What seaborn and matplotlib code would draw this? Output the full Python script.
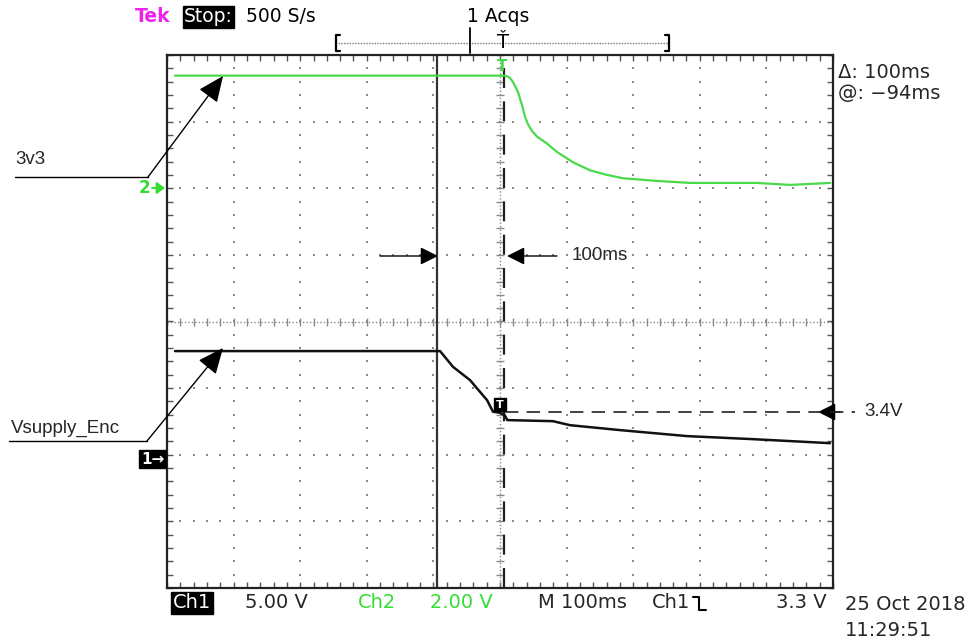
import numpy as np
import pandas as pd
import matplotlib
matplotlib.use("Agg")
import matplotlib.pyplot as plt
import seaborn as sns
from matplotlib.lines import Line2D
from matplotlib.patches import FancyArrowPatch, ArrowStyle

# ---------------- data (time in ms relative to screen centre, volts) -------------
ch2_t = [-488, -300, -100, 0, 7.5, 12, 15, 19.5, 27, 33, 37.5, 42, 48, 55.6, 70.6, 85.6,
         109.6, 135, 160.7, 184.7, 235.7, 285.3, 385.9, 435.7, 496]
ch2_v = [3.38, 3.38, 3.38, 3.38, 3.38, 3.35, 3.31, 3.19, 2.89, 2.50, 2.15, 1.92, 1.72,
         1.55, 1.34, 1.09, 0.78, 0.54, 0.40, 0.30, 0.22, 0.16, 0.16, 0.10, 0.16]

ch1_t = [-488, -300, -90, -70.6, -45, -19.5, -10.5, 0, 7, 11, 79.6, 105, 180, 280.8,
         379.9, 495.5]
ch1_v = [8.18, 8.18, 8.18, 7.0, 6.0, 4.5, 3.63, 3.55, 3.37, 3.0, 2.92, 2.62, 2.25, 1.8,
         1.57, 1.27]

ch1_scale, ch1_ground = 5.0, -2.08   # V/div, ground marker (div)
ch2_scale, ch2_ground = 2.0, 2.0
cursor1_ms, cursor2_ms = -94, 6

df1 = pd.DataFrame({"t": ch1_t, "div": np.array(ch1_v) / ch1_scale + ch1_ground})
df2 = pd.DataFrame({"t": ch2_t, "div": np.array(ch2_v) / ch2_scale + ch2_ground})

# ---------------- figure --------------------------------------------------------
sns.set_theme(style="white")
plt.rcParams["font.family"] = ["DejaVu Sans"]
W, H = 976, 641
fig = plt.figure(figsize=(W / 100, H / 100), dpi=100)
L, R, T, B = 167, 833, 55, 588
ax = fig.add_axes([L / W, 1 - B / H, (R - L) / W, (B - T) / H])
ax.set_xlim(-500, 500)
ax.set_ylim(-4, 4)


def fx(x):
    return x / W


def fy(y):
    return 1 - y / H


GREEN = "#4ad94a"
TXTGREEN = "#33dd33"
MAG = "#ee22ee"
GRID = "#8a8a8a"

# grid dots
xs = np.arange(-500, 501, 20)
ys = np.arange(-4, 4.01, 0.2)
for gx in range(-400, 401, 100):
    if gx == 0:
        continue
    ax.scatter(np.full(len(ys), gx), ys, s=1.6, color=GRID, marker="s", linewidths=0, zorder=1)
for gy in range(-3, 4):
    if gy == 0:
        continue
    ax.scatter(xs, np.full(len(xs), gy), s=1.6, color=GRID, marker="s", linewidths=0, zorder=1)

# centre crosshair with ticks
ax.axhline(0, color=GRID, lw=1, ls=(0, (1, 1.5)), zorder=1)
ax.axvline(0, color=GRID, lw=1, ls=(0, (1, 1.5)), zorder=1)
ax.plot(xs, np.zeros(len(xs)), ls="none", marker="|", ms=6, mew=1, color=GRID, zorder=1)
ax.plot(np.zeros(len(ys)), ys, ls="none", marker="_", ms=6, mew=1, color=GRID, zorder=1)

# border ticks
ax.set_xticks([])
ax.set_yticks([])
ax.set_xticks(xs, minor=True)
ax.set_yticks(ys, minor=True)
ax.tick_params(which="minor", direction="in", length=4, width=1, color="#555555",
               top=True, bottom=True, left=True, right=True,
               labelbottom=False, labelleft=False)
for s in ax.spines.values():
    s.set_color("#222222")
    s.set_linewidth(1.6)

# cursors
ax.axvline(cursor1_ms, color="#333333", lw=1.6, zorder=2)
ax.axvline(cursor2_ms, color="#222222", lw=1.6, ls=(0, (9, 6)), zorder=2)

# traces
sns.lineplot(data=df2, x="t", y="div", ax=ax, color=GREEN, lw=1.6, estimator=None, zorder=3)
sns.lineplot(data=df1, x="t", y="div", ax=ax, color="#111111", lw=1.8, estimator=None, zorder=3)
ax.set_xlabel("")
ax.set_ylabel("")

# trigger position marker (green T at top)
ax.text(cursor2_ms - 3, 3.82, "T", color=GREEN, fontsize=11, fontweight="bold",
        ha="center", va="center", zorder=4)
# trigger level box on ch1
ax.text(0, -1.25, "T", color="white", fontsize=8, fontweight="bold", ha="center", va="center",
        bbox=dict(boxstyle="square,pad=0.15", fc="black", ec="black"), zorder=5)

# ---------------- header --------------------------------------------------------
fig.text(fx(135), fy(17), "Tek", color=MAG, fontsize=13.5, fontweight="bold", va="center")
fig.text(fx(184), fy(17), "Stop:", color="white", fontsize=13.5, va="center",
         bbox=dict(boxstyle="square,pad=0.08", fc="black", ec="black"))
fig.text(fx(246), fy(17), "500 S/s", color="black", fontsize=13.5, va="center")
fig.text(fx(467), fy(17), "1 Acqs", color="black", fontsize=13.5, va="center")

# record bracket
fig.add_artist(Line2D([fx(338), fx(668)], [fy(43), fy(43)], color="#777777", lw=1,
                      ls=(0, (1, 1)), transform=fig.transFigure))
for bx, d in [(336, 1), (669, -1)]:
    fig.add_artist(Line2D([fx(bx + 4 * d), fx(bx), fx(bx), fx(bx + 4 * d)],
                          [fy(35), fy(35), fy(51), fy(51)], color="black", lw=1.6,
                          transform=fig.transFigure))
fig.add_artist(Line2D([fx(470), fx(470)], [fy(28), fy(53)], color="black", lw=1.3,
                      transform=fig.transFigure))
fig.text(fx(503), fy(42), "Ť", color="black", fontsize=14, ha="center", va="center")

# right-side readouts
fig.text(fx(838), fy(72), "Δ: 100ms", fontsize=14, va="center")
fig.text(fx(838), fy(94), "@: −94ms", fontsize=14, va="center")

# channel ground markers
fig.text(fx(139), fy(188), "2", color=TXTGREEN, fontsize=12, fontweight="bold", va="center")
fig.add_artist(FancyArrowPatch((fx(152), fy(188)), (fx(165), fy(188)), transform=fig.transFigure,
                               arrowstyle=ArrowStyle("-|>", head_length=0.35, head_width=0.25),
                               mutation_scale=14, color=TXTGREEN, lw=1.4, shrinkA=0, shrinkB=0))
fig.text(fx(141), fy(459), "1→", color="white", fontsize=11, fontweight="bold", va="center",
         bbox=dict(boxstyle="square,pad=0.12", fc="black", ec="black"))

# ---------------- bottom status line -------------------------------------------
NARROW = ["DejaVu Sans"]
fig.text(fx(173), fy(603), "Ch1", color="white", fontsize=14, family=NARROW, va="center",
         bbox=dict(boxstyle="square,pad=0.08", fc="black", ec="black"))
fig.text(fx(245), fy(603), "5.00 V", fontsize=14, family=NARROW, va="center")
fig.text(fx(358), fy(603), "Ch2", color=TXTGREEN, fontsize=14, family=NARROW, va="center")
fig.text(fx(430), fy(603), "2.00 V", color=TXTGREEN, fontsize=14, family=NARROW, va="center")
fig.text(fx(538), fy(603), "M 100ms", fontsize=14, family=NARROW, va="center")
fig.text(fx(652), fy(603), "Ch1", fontsize=14, family=NARROW, va="center")
fig.add_artist(Line2D([fx(693), fx(699), fx(699), fx(706)], [fy(597), fy(597), fy(610), fy(610)],
                      color="black", lw=1.5, transform=fig.transFigure))
fig.text(fx(776), fy(603), "3.3 V", fontsize=14, family=NARROW, va="center")
fig.text(fx(845), fy(604), "25 Oct 2018", fontsize=14, family=NARROW, va="center")
fig.text(fx(845), fy(630), "11:29:51", fontsize=14, family=NARROW, va="center")

# ---------------- annotations ---------------------------------------------------
ANN = ["Liberation Sans", "DejaVu Sans"]
big_head = ArrowStyle("-|>", head_length=0.8, head_width=0.35)
sm_head = ArrowStyle("-|>", head_length=0.6, head_width=0.3)

fig.text(fx(15), fy(160), "3v3", fontsize=13.5, family=ANN, va="center")
fig.add_artist(Line2D([fx(15), fx(148)], [fy(177), fy(177)], color="black", lw=1,
                      transform=fig.transFigure))
fig.add_artist(FancyArrowPatch((fx(148), fy(177)), (fx(223), fy(76)), transform=fig.transFigure,
                               arrowstyle=big_head, mutation_scale=20, color="black", lw=1,
                               shrinkA=0, shrinkB=0))

fig.text(fx(11), fy(428), "Vsupply_Enc", fontsize=13.5, family=ANN, va="center")
fig.add_artist(Line2D([fx(9), fx(147)], [fy(441), fy(441)], color="black", lw=1,
                      transform=fig.transFigure))
fig.add_artist(FancyArrowPatch((fx(147), fy(441)), (fx(223), fy(348)), transform=fig.transFigure,
                               arrowstyle=big_head, mutation_scale=20, color="black", lw=1,
                               shrinkA=0, shrinkB=0))

fig.add_artist(FancyArrowPatch((fx(380), fy(256)), (fx(438), fy(256)), transform=fig.transFigure,
                               arrowstyle=sm_head, mutation_scale=18, color="black", lw=1,
                               shrinkA=0, shrinkB=0))
fig.add_artist(FancyArrowPatch((fx(557), fy(256)), (fx(507), fy(256)), transform=fig.transFigure,
                               arrowstyle=sm_head, mutation_scale=18, color="black", lw=1,
                               shrinkA=0, shrinkB=0))
fig.text(fx(572), fy(256), "100ms", fontsize=13.5, family=ANN, va="center")

fig.add_artist(Line2D([fx(505), fx(855)], [fy(412), fy(412)], color="#222222", lw=1.2,
                      ls=(0, (8, 5)), transform=fig.transFigure))
fig.add_artist(FancyArrowPatch((fx(840), fy(412)), (fx(818), fy(412)), transform=fig.transFigure,
                               arrowstyle=sm_head, mutation_scale=18, color="black", lw=1,
                               shrinkA=0, shrinkB=0))
fig.text(fx(864), fy(412), "3.4V", fontsize=13.5, family=ANN, va="center")

fig.savefig("out.png", dpi=100, facecolor="white")
